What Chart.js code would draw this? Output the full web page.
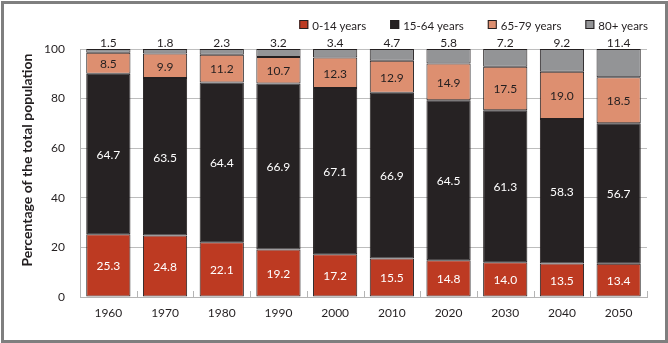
<!DOCTYPE html>
<html>
<head>
<meta charset="utf-8">
<script src="https://cdn.jsdelivr.net/npm/chart.js@4.4.1/dist/chart.umd.min.js"></script>
<style>
    html, body { margin: 0; padding: 0; background: #fff; }
    #frame { position: absolute; left: 1px; top: 1px; width: 667px; height: 342px; box-sizing: border-box; border: 3px solid #7f7f7f; }
    #wrap { position: absolute; left: 0; top: 0; width: 668px; height: 343px; }
</style>
</head>
<body>
<div id="frame"></div>
<div id="wrap"><canvas id="popChart" width="668" height="343"></canvas></div>
<script>
// --- DATA ---
const years = ['1960', '1970', '1980', '1990', '2000', '2010', '2020', '2030', '2040', '2050'];
const ageGroups = ['0-14 years', '15-64 years', '65-79 years', '80+ years'];
const age0to14 = [25.3, 24.8, 22.1, 19.2, 17.2, 15.5, 14.8, 14.0, 13.5, 13.4];
const age15to64 = [64.7, 63.5, 64.4, 66.9, 67.1, 66.9, 64.5, 61.3, 58.3, 56.7];
const age65to79 = [8.5, 9.9, 11.2, 10.7, 12.3, 12.9, 14.9, 17.5, 19.0, 18.5];
const age80plus = [1.5, 1.8, 2.3, 3.2, 3.4, 4.7, 5.8, 7.2, 9.2, 11.4];
const yTicks = [0, 20, 40, 60, 80, 100];

// --- STYLE ---
const FONT = 'Lato, "Open Sans", sans-serif';
const INK = '#231f20';
const barColors = ['#bd3a22', '#262223', '#dd8f70', '#939496'];
const labelColors = ['#ffffff', '#ffffff', INK, INK];
const axisGrey = '#b5b5b5';

// value labels inside each segment (80+ goes above the bar)
const segmentLabels = {
    id: 'segmentLabels',
    afterDatasetsDraw(chart) {
        const ctx = chart.ctx;
        ctx.save();
        ctx.font = '12px ' + FONT;
        ctx.textAlign = 'center';
        ctx.textBaseline = 'middle';
        chart.data.datasets.forEach((ds, i) => {
            chart.getDatasetMeta(i).data.forEach((bar, j) => {
                let y = (bar.y + bar.base) / 2;
                if (i === 3) y = bar.y - 7;
                ctx.fillStyle = labelColors[i];
                ctx.fillText(ds.data[j].toFixed(1), bar.x, y + 1);
            });
        });
        ctx.restore();
    }
};

// small tick marks between categories, drawn inside the plot
const innerTicks = {
    id: 'innerTicks',
    afterDraw(chart) {
        const ctx = chart.ctx;
        const area = chart.chartArea;
        const step = (area.right - area.left) / years.length;
        ctx.save();
        ctx.strokeStyle = axisGrey;
        ctx.lineWidth = 1;
        for (let k = 1; k <= years.length; k++) {
            const x = Math.round(area.left + k * step) + 0.5;
            ctx.beginPath();
            ctx.moveTo(x, area.bottom - 6);
            ctx.lineTo(x, area.bottom);
            ctx.stroke();
        }
        ctx.restore();
    }
};

// legend row at the top right
const topLegend = {
    id: 'topLegend',
    afterDraw(chart) {
        const ctx = chart.ctx;
        ctx.save();
        ctx.font = '11.5px ' + FONT;
        ctx.textBaseline = 'middle';
        const box = 9, gapText = 4, gapItem = 24;
        let total = 0;
        ageGroups.forEach((g, i) => {
            total += box + gapText + ctx.measureText(g).width + (i < ageGroups.length - 1 ? gapItem : 0);
        });
        let x = 648 - total;
        const y = 25;
        ageGroups.forEach((g, i) => {
            ctx.fillStyle = barColors[i];
            ctx.fillRect(x, y - 5, box, box);
            ctx.strokeStyle = INK;
            ctx.lineWidth = 1;
            ctx.strokeRect(x + 0.5, y - 4.5, box - 1, box - 1);
            ctx.fillStyle = INK;
            ctx.fillText(g, x + box + gapText, y + 1);
            x += box + gapText + ctx.measureText(g).width + gapItem;
        });
        ctx.restore();
    }
};

// rotated y axis title
const yTitle = {
    id: 'yTitle',
    afterDraw(chart) {
        const ctx = chart.ctx;
        ctx.save();
        ctx.translate(27, 160);
        ctx.rotate(-Math.PI / 2);
        ctx.font = 'bold 14px ' + FONT;
        ctx.fillStyle = INK;
        ctx.textAlign = 'center';
        ctx.textBaseline = 'middle';
        ctx.fillText('Percentage of the total population', 0, 0);
        ctx.restore();
    }
};

const series = [age0to14, age15to64, age65to79, age80plus];

new Chart(document.getElementById('popChart'), {
    type: 'bar',
    data: {
        labels: years,
        datasets: series.map((vals, i) => ({
            label: ageGroups[i],
            data: vals,
            backgroundColor: barColors[i],
            borderColor: INK,
            borderWidth: 1,
            borderSkipped: false,
            barPercentage: 0.78,
            categoryPercentage: 1.0
        }))
    },
    options: {
        responsive: false,
        animation: false,
        layout: { padding: { top: 49, right: 21, bottom: 0, left: 0 } },
        plugins: {
            legend: { display: false },
            tooltip: { enabled: false }
        },
        scales: {
            x: {
                stacked: true,
                grid: { display: false, drawTicks: false },
                border: { display: true, color: axisGrey },
                ticks: { color: INK, font: { family: FONT, size: 12 }, padding: 9 },
                afterFit: s => { s.height = 46; }
            },
            y: {
                stacked: true,
                min: 0,
                max: 100,
                afterBuildTicks: s => { s.ticks = yTicks.map(v => ({ value: v })); },
                grid: { color: '#bdbdbd', drawTicks: false },
                border: { display: true, color: axisGrey },
                ticks: { color: INK, font: { family: FONT, size: 12 }, padding: 15 },
                afterFit: s => { s.width = 80; }
            }
        }
    },
    plugins: [segmentLabels, innerTicks, topLegend, yTitle]
});
</script>
</body>
</html>
